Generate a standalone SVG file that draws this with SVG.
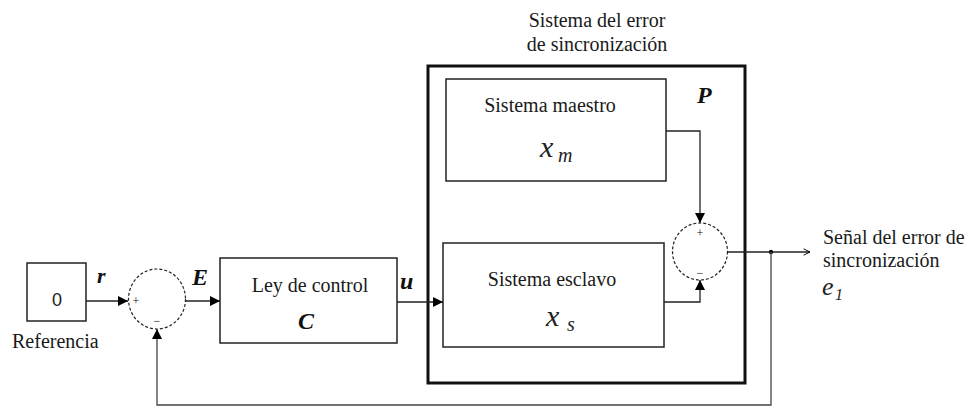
<svg xmlns="http://www.w3.org/2000/svg" width="974" height="407" viewBox="0 0 974 407">
<defs>
<marker id="fa" viewBox="0 0 10 10" refX="10" refY="5" markerWidth="10" markerHeight="10" markerUnits="userSpaceOnUse" orient="auto">
<path d="M0,0 L10,5 L0,10 Z" fill="#000"/>
</marker>
<marker id="oa" viewBox="0 0 10 10" refX="9" refY="5" markerWidth="8" markerHeight="8" markerUnits="userSpaceOnUse" orient="auto">
<path d="M1,1 L9,5 L1,9" fill="none" stroke="#000" stroke-width="1.2"/>
</marker>
</defs>
<style>
.box{fill:#fff;stroke:#222;stroke-width:1.5}
.outer{fill:none;stroke:#111;stroke-width:3}
.sum{fill:#fff;stroke:#222;stroke-width:1.2;stroke-dasharray:3 2}
.ln{fill:none;stroke:#222;stroke-width:1.3}
.fb{fill:none;stroke:#444;stroke-width:1.3}
text{font-family:'Liberation Serif','Times New Roman','DejaVu Serif',serif}
.t{font-size:20px;fill:#1a1a1a}
.bi{font-weight:bold;font-style:italic;fill:#111}
.it{font-style:italic;fill:#222}
.sg{font-size:12px;fill:#111}
</style>
<rect width="974" height="407" fill="#fff"/>

<g id="titulo">
<text class="t" x="597" y="27" text-anchor="middle">Sistema del error</text>
<text class="t" x="597" y="51" text-anchor="middle">de sincronización</text>
</g>

<g id="planta-P">
<rect class="outer" x="428" y="66" width="317" height="317"/>
<text class="bi" x="697" y="103" font-size="24">P</text>
</g>

<g id="referencia">
<rect class="box" x="27" y="263" width="59" height="58"/>
<text x="57" y="306" text-anchor="middle" style="font-family:'Liberation Sans',Arial,sans-serif" font-size="18" fill="#222">0</text>
<text class="t" x="12" y="348">Referencia</text>
</g>

<g id="sumador1">
<ellipse class="sum" cx="157" cy="299" rx="28.5" ry="30"/>
<text class="sg" x="136" y="305" text-anchor="middle">+</text>
<text class="sg" x="157" y="325" text-anchor="middle">−</text>
</g>

<g id="ley-control">
<rect class="box" x="220" y="258" width="177" height="85"/>
<text class="t" x="310" y="292" text-anchor="middle">Ley de control</text>
<text class="bi" x="306" y="329" font-size="24" text-anchor="middle">C</text>
</g>

<g id="sistema-maestro">
<rect class="box" x="446" y="79" width="220" height="102"/>
<text class="t" x="550" y="112" text-anchor="middle">Sistema maestro</text>
<text class="it" x="540" y="157" font-size="30">x</text>
<text class="it" x="558" y="162" font-size="20">m</text>
</g>

<g id="sistema-esclavo">
<rect class="box" x="443" y="243" width="221" height="104"/>
<text class="t" x="552" y="286" text-anchor="middle">Sistema esclavo</text>
<text class="it" x="546" y="326" font-size="30">x</text>
<text class="it" x="567" y="331" font-size="20">s</text>
</g>

<g id="sumador2">
<ellipse class="sum" cx="700" cy="251.5" rx="27.5" ry="28.5"/>
<text class="sg" x="700" y="237" text-anchor="middle">+</text>
<text class="sg" x="700" y="277" text-anchor="middle">−</text>
</g>

<g id="salida">
<text class="t" x="823" y="244">Señal del error de</text>
<text class="t" x="823" y="266.5">sincronización</text>
<text class="it" x="822" y="295" font-size="26">e</text>
<text class="it" x="835" y="300" font-size="16">1</text>
</g>

<g id="conectores">
<line class="ln" x1="86" y1="301" x2="128" y2="301" marker-end="url(#fa)"/>
<line class="ln" x1="185.5" y1="301" x2="220" y2="301" marker-end="url(#fa)"/>
<line class="ln" x1="397" y1="302" x2="443" y2="302" marker-end="url(#fa)"/>
<polyline class="ln" points="666,131 700,131 700,223" marker-end="url(#fa)"/>
<polyline class="ln" points="664,302 700,302 700,280" marker-end="url(#fa)"/>
<line class="ln" x1="727.5" y1="252" x2="810" y2="252" marker-end="url(#oa)"/>
<circle cx="771" cy="252" r="2.2" fill="#111"/>
<polyline class="fb" points="771,252 771,405 157,405 157,329" marker-end="url(#fa)"/>
<text class="bi" x="97" y="283" font-size="22">r</text>
<text class="bi" x="192" y="285" font-size="24">E</text>
<text class="bi" x="400" y="289" font-size="24">u</text>
</g>
</svg>
